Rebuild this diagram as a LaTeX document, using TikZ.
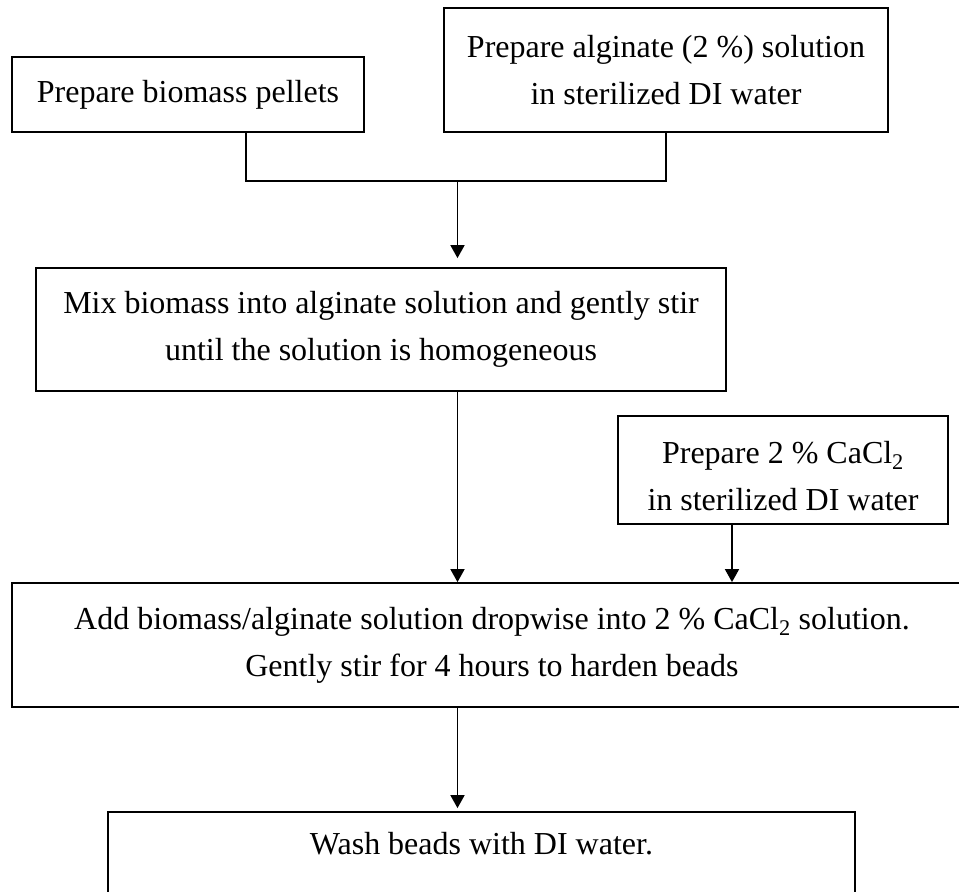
\documentclass[tikz,border=0pt]{standalone}
\usepackage{fontspec}
\setmainfont{Liberation Serif}
\usetikzlibrary{arrows.meta}
\begin{document}
\begin{tikzpicture}[x=1pt, y=-1pt,
    box/.style={draw, line width=1.8pt, align=center, inner sep=0pt,
        font=\fontsize{32}{47}\selectfont},
    arr/.style={-{Triangle[length=13pt,width=14pt]}, line width=1.8pt}]
    \useasboundingbox (0,0) rectangle (959,892);
    % Starting steps
    \node[box, minimum width=352pt, minimum height=75pt] (pellets) at (188,94.5)
        {Prepare biomass pellets};
    \node[box, minimum width=444pt, minimum height=124pt] (alginate) at (666,70)
        {Prepare alginate (2 \%) solution\\in sterilized DI water};
    \coordinate (join) at (457.5,181);
    \draw[line width=1.8pt] ([xshift=58pt]pellets.south) |- (join) -| (alginate.south);
    % Mixing
    \node[box, minimum width=690pt, minimum height=123pt] (mix) at (381,329.5)
        {Mix biomass into alginate solution and gently stir\\until the solution is homogeneous};
    \draw[arr, shorten >=9pt] (join) -- (mix.north -| join);
    \node[box, minimum width=330pt, minimum height=108pt] (cacl) at (783,470)
        {\rule{0pt}{34pt}Prepare 2 \% CaCl\textsubscript{2}\\in sterilized DI water};
    % Beads
    \node[box, minimum width=960pt, minimum height=124pt] (drop) at (492,645)
        {Add biomass/alginate solution dropwise into 2 \% CaCl\textsubscript{2} solution.\\Gently stir for 4 hours to harden beads};
    \draw[arr] (mix.south -| join) -- (drop.north -| join);
    \draw[arr] ([xshift=-51pt]cacl.south) -- ([xshift=-51pt]cacl.south |- drop.north);
    \node[box, minimum width=747pt, minimum height=124pt] (wash) at (481.5,874)
        {Wash beads with DI water.\\\strut};
    \draw[arr, shorten >=3pt] (drop.south -| join) -- (wash.north -| join);
\end{tikzpicture}
\end{document}
